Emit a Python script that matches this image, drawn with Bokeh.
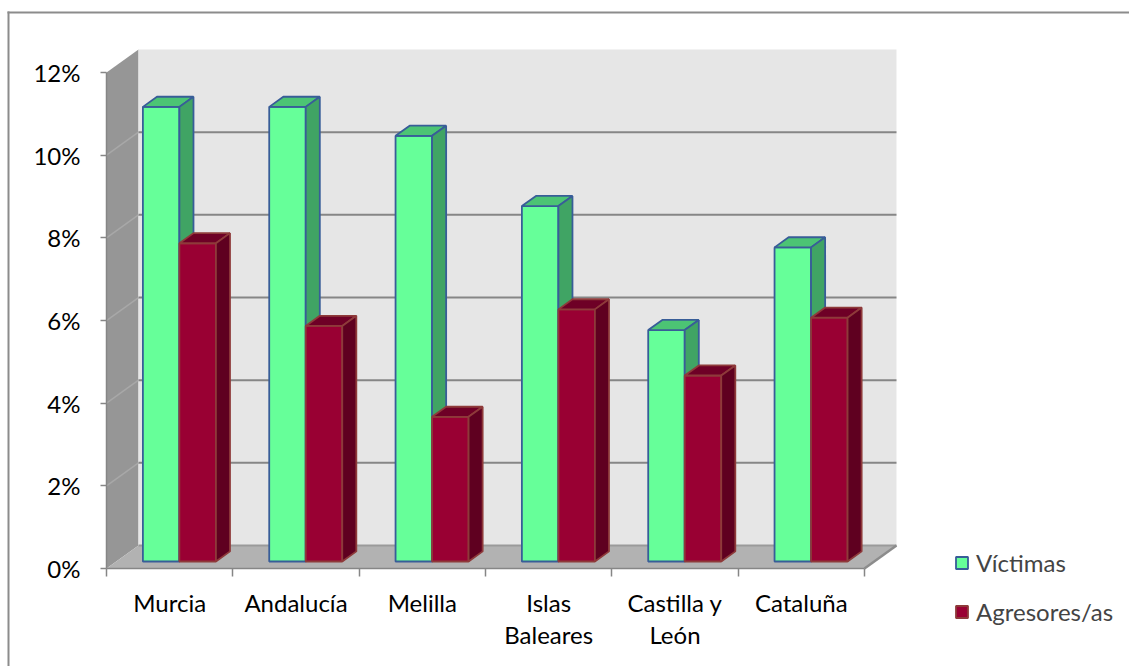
from bokeh.plotting import figure
from bokeh.models import (Range1d, FixedTicker, PrintfTickFormatter, Legend,
                          LegendItem, ColumnDataSource)
from bokeh.embed import file_html
from bokeh.resources import INLINE

# ---------------- data ----------------
categories = ["Murcia", "Andalucía", "Melilla", "Islas Baleares", "Castilla y León", "Cataluña"]
axis_labels = ["Murcia", "Andalucía", "Melilla", "Islas\nBaleares", "Castilla y\nLeón", "Cataluña"]
victimas = [11.0, 11.0, 10.3, 8.6, 5.6, 7.6]
agresores = [7.7, 5.7, 3.5, 6.1, 4.5, 5.9]
series_names = ["Víctimas", "Agresores/as"]
y_ticks = [0, 2, 4, 6, 8, 10, 12]

# ---------------- styles / geometry ----------------
W, H = 1129, 666
ORIGIN_X, ORIGIN_Y = 106, 568   # pixel position of (0, 0%)
PX_X = 126.33   # px per category
PX_Y = 41.33    # px per percent
DEPTH_X = 32 / PX_X
DEPTH_Y = 23 / PX_Y
Z0 = 7 / 23      # depth where bars start
ZB = 0.44        # bar depth
BAR_W = 0.289
FONT = "Lato"
FS = "24px"
AXIS_GRAY = "#868686"

face_colors = [("#66FF99", "#4CC474", "#40A464", "#385D98"),
               ("#990033", "#6E0026", "#5F0020", "#8E3A3A")]

n = len(categories)
ymax = y_ticks[-1]

p = figure(width=W, height=H,
           x_range=Range1d(-ORIGIN_X / PX_X, (W - ORIGIN_X) / PX_X),
           y_range=Range1d(-(H - ORIGIN_Y) / PX_Y, ORIGIN_Y / PX_Y),
           output_backend="svg", toolbar_location=None,
           min_border=0, min_border_left=0, min_border_right=0,
           min_border_top=0, min_border_bottom=0)
p.grid.visible = False
p.outline_line_color = None
p.background_fill_color = "white"
p.border_fill_color = "white"

# outer chart-area border (only top and left edges fall inside the picture),
# drawn as thin filled strips
px1x, px1y = 1 / PX_X, 1 / PX_Y
bx = (8 - ORIGIN_X) / PX_X
by = (ORIGIN_Y - 12) / PX_Y
b_right = (W - ORIGIN_X) / PX_X
b_bottom = -(H - ORIGIN_Y) / PX_Y
p.quad(left=[bx - px1x, bx - px1x], right=[b_right, bx + px1x],
       top=[by + px1y, by + px1y], bottom=[by - px1y, b_bottom],
       fill_color="#8C8C8C", line_color=None)

# walls
p.patch([0, 0, DEPTH_X, DEPTH_X], [0, ymax, ymax + DEPTH_Y, DEPTH_Y],
        fill_color="#969696", line_color=None)
p.patch([DEPTH_X, n + DEPTH_X, n + DEPTH_X, DEPTH_X],
        [DEPTH_Y, DEPTH_Y, ymax + DEPTH_Y, ymax + DEPTH_Y],
        fill_color="#E6E6E6", line_color=None)
p.patch([0, n, n + DEPTH_X, DEPTH_X], [0, 0, DEPTH_Y, DEPTH_Y],
        fill_color="#B2B2B2", line_color=None)
p.line([DEPTH_X, n + DEPTH_X], [DEPTH_Y, DEPTH_Y],
       line_color="#9A9A9A", line_width=2)
p.line([n + DEPTH_X, n], [DEPTH_Y, 0], line_color="#8C8C8C", line_width=2.5)

# gridlines
grid_vals = [t for t in y_ticks if 0 < t < ymax]
p.segment(x0=[DEPTH_X] * len(grid_vals), y0=[t + DEPTH_Y for t in grid_vals],
          x1=[n + DEPTH_X] * len(grid_vals), y1=[t + DEPTH_Y for t in grid_vals],
          line_color=AXIS_GRAY, line_width=2)
p.segment(x0=[0] * len(grid_vals), y0=grid_vals,
          x1=[DEPTH_X] * len(grid_vals), y1=[t + DEPTH_Y for t in grid_vals],
          line_color="#A8A8A8", line_width=1.5)

# bars
xs, ys, fills, lines = [], [], [], []
dx, dy = ZB * DEPTH_X, ZB * DEPTH_Y
for i in range(n):
    for s, vals in enumerate([victimas, agresores]):
        v = vals[i]
        x0 = i + 0.5 - BAR_W + s * BAR_W + Z0 * DEPTH_X
        x1 = x0 + BAR_W
        y0 = Z0 * DEPTH_Y
        y1 = y0 + v
        fc, tc, sc, lc = face_colors[s]
        xs += [[x0, x1, x1, x0], [x0, x1, x1 + dx, x0 + dx], [x1, x1 + dx, x1 + dx, x1]]
        ys += [[y0, y0, y1, y1], [y1, y1, y1 + dy, y1 + dy], [y0, y0 + dy, y1 + dy, y1]]
        fills += [fc, tc, sc]
        lines += [lc, lc, lc]
src = ColumnDataSource(dict(xs=xs, ys=ys, fill=fills, line=lines))
bars = p.patches("xs", "ys", source=src, fill_color="fill", line_color="line", line_width=1.8)

# axes (fixed at the chart origin)
xa = p.xaxis[0]
xa.fixed_location = 0
xa.ticker = FixedTicker(ticks=[i + 0.5 for i in range(n)], minor_ticks=list(range(n + 1)))
xa.major_label_overrides = {i + 0.5: axis_labels[i] for i in range(n)}
xa.bounds = (0, n)
xa.major_tick_in = 0
xa.major_tick_out = 0
xa.minor_tick_in = 0
xa.minor_tick_out = 8
xa.minor_tick_line_color = AXIS_GRAY
xa.minor_tick_line_width = 1.5
xa.axis_line_color = AXIS_GRAY
xa.axis_line_width = 1.5
xa.major_label_text_font = FONT
xa.major_label_text_font_size = FS
xa.major_label_text_color = "black"
xa.major_label_standoff = 11
xa.major_label_text_line_height = 1.12

ya = p.yaxis[0]
ya.fixed_location = 0
ya.ticker = FixedTicker(ticks=y_ticks)
ya.formatter = PrintfTickFormatter(format="%d%%")
ya.bounds = (0, ymax)
ya.major_tick_in = 0
ya.major_tick_out = 6
ya.minor_tick_line_color = None
ya.major_tick_line_color = AXIS_GRAY
ya.major_tick_line_width = 1.5
ya.axis_line_color = AXIS_GRAY
ya.axis_line_width = 1.5
ya.major_label_text_font = FONT
ya.major_label_text_font_size = FS
ya.major_label_text_color = "black"
ya.major_label_standoff = 20

# legend
legend = Legend(items=[LegendItem(label=series_names[0], renderers=[bars], index=0),
                       LegendItem(label=series_names[1], renderers=[bars], index=3)],
                location=(954, 40), glyph_width=15, glyph_height=15,
                label_height=28, spacing=20, label_standoff=7,
                label_text_font=FONT, label_text_font_size=FS,
                padding=0, margin=0, border_line_color=None,
                background_fill_alpha=0)
p.add_layout(legend)

open("out.html", "w").write(file_html(p, INLINE))
